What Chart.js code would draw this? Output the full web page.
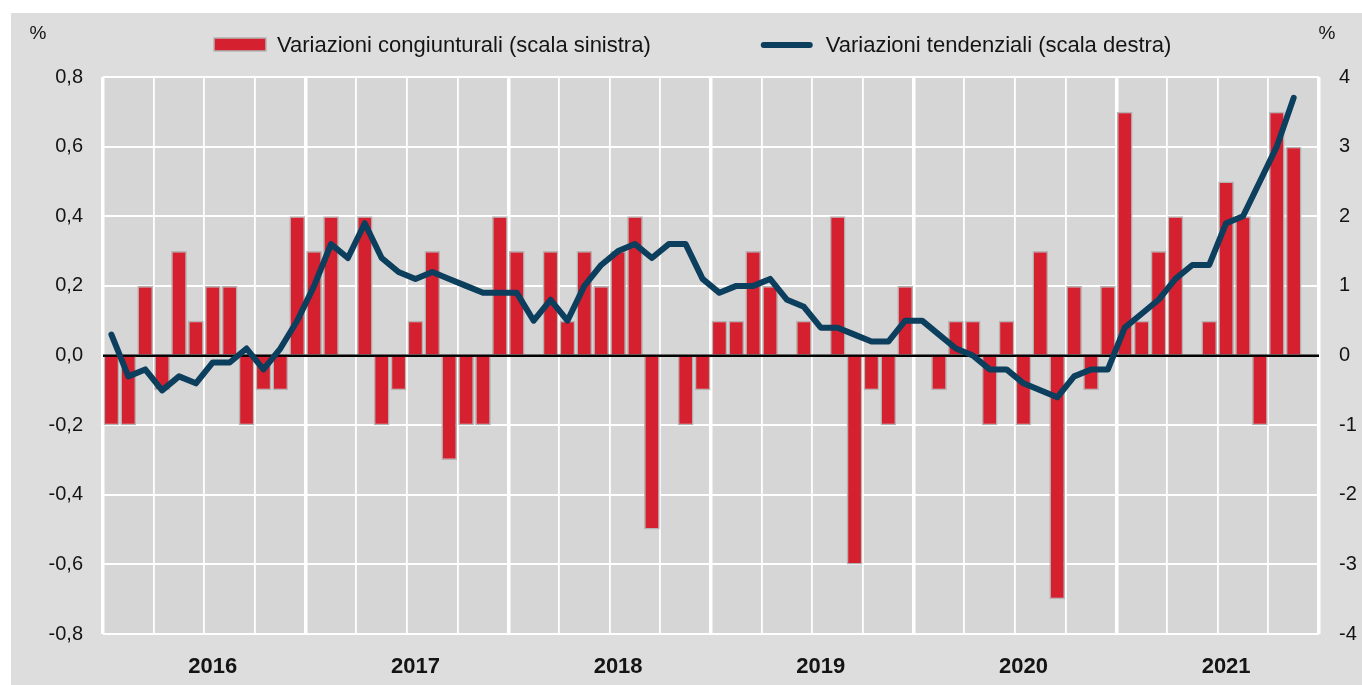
<!DOCTYPE html>
<html lang="it">
<head>
<meta charset="utf-8">
<title>Prezzi al consumo - variazioni</title>
<script src="https://cdn.jsdelivr.net/npm/chart.js@4.4.1/dist/chart.umd.min.js"></script>
<style>
  html, body { margin: 0; padding: 0; background: #fff; }
  #wrap { width: 1362px; height: 685px; }
</style>
</head>
<body>
<div id="wrap"><canvas id="grafico" width="1362" height="685"></canvas></div>
<script>
const anni = [2016, 2017, 2018, 2019, 2020, 2021];
const mesi = ['gen', 'feb', 'mar', 'apr', 'mag', 'giu', 'lug', 'ago', 'set', 'ott', 'nov', 'dic'];

// variazioni congiunturali, % (scala sinistra)
const congiunturali = [
  -0.2, -0.2, 0.2, -0.1, 0.3, 0.1, 0.2, 0.2, -0.2, -0.1, -0.1, 0.4,
  0.3, 0.4, 0.0, 0.4, -0.2, -0.1, 0.1, 0.3, -0.3, -0.2, -0.2, 0.4,
  0.3, 0.0, 0.3, 0.1, 0.3, 0.2, 0.3, 0.4, -0.5, 0.0, -0.2, -0.1,
  0.1, 0.1, 0.3, 0.2, 0.0, 0.1, 0.0, 0.4, -0.6, -0.1, -0.2, 0.2,
  0.0, -0.1, 0.1, 0.1, -0.2, 0.1, -0.2, 0.3, -0.7, 0.2, -0.1, 0.2,
  0.7, 0.1, 0.3, 0.4, 0.0, 0.1, 0.5, 0.4, -0.2, 0.7, 0.6, null
];

// variazioni tendenziali, % (scala destra)
const tendenziali = [
  0.3, -0.3, -0.2, -0.5, -0.3, -0.4, -0.1, -0.1, 0.1, -0.2, 0.1, 0.5,
  1.0, 1.6, 1.4, 1.9, 1.4, 1.2, 1.1, 1.2, 1.1, 1.0, 0.9, 0.9,
  0.9, 0.5, 0.8, 0.5, 1.0, 1.3, 1.5, 1.6, 1.4, 1.6, 1.6, 1.1,
  0.9, 1.0, 1.0, 1.1, 0.8, 0.7, 0.4, 0.4, 0.3, 0.2, 0.2, 0.5,
  0.5, 0.3, 0.1, 0.0, -0.2, -0.2, -0.4, -0.5, -0.6, -0.3, -0.2, -0.2,
  0.4, 0.6, 0.8, 1.1, 1.3, 1.3, 1.9, 2.0, 2.5, 3.0, 3.7, null
];

const etichette = [];
anni.forEach(a => mesi.forEach(m => etichette.push(m + ' ' + a)));

const FONT = "'Liberation Sans', Arial, sans-serif";
const ROSSO = '#d4202f';
const BLU = '#0c3e5d';
const TESTO = '#141414';

const isZero = v => Math.abs(v) < 1e-9;

// sfondo grigio del riquadro e dell'area del grafico
const sfondo = {
  id: 'sfondo',
  beforeDraw(chart) {
    const { ctx, chartArea: a } = chart;
    ctx.save();
    ctx.fillStyle = '#ffffff';
    ctx.fillRect(0, 0, chart.width, chart.height);
    ctx.fillStyle = '#dddddd';
    ctx.fillRect(11, 13, chart.width - 11, chart.height - 13);
    ctx.fillStyle = '#d6d6d6';
    ctx.fillRect(a.left, a.top, a.right - a.left, a.bottom - a.top);
    ctx.restore();
  }
};

// linea dello zero sopra le barre, sotto la linea
const lineaZero = {
  id: 'lineaZero',
  afterDatasetDraw(chart, args) {
    if (args.index !== 0) return;
    const { ctx, chartArea: a } = chart;
    const y = chart.scales.y.getPixelForValue(0);
    ctx.save();
    ctx.strokeStyle = '#000';
    ctx.lineWidth = 2;
    ctx.beginPath();
    ctx.moveTo(a.left, y);
    ctx.lineTo(a.right, y);
    ctx.stroke();
    ctx.restore();
  }
};

// legenda e simboli "%"
const legenda = {
  id: 'legenda',
  afterDraw(chart) {
    const { ctx } = chart;
    const ds = chart.data.datasets;
    ctx.save();
    ctx.font = '22px ' + FONT;
    ctx.textBaseline = 'alphabetic';
    ctx.textAlign = 'left';

    let x = 214;
    const yTesto = 52;
    // barre
    ctx.fillStyle = ds[0].backgroundColor;
    ctx.fillRect(x, 38, 52, 13);
    ctx.strokeStyle = '#b4b4b4';
    ctx.lineWidth = 1.5;
    ctx.strokeRect(x, 38, 52, 13);
    x += 52 + 11;
    ctx.fillStyle = TESTO;
    ctx.fillText(ds[0].label, x, yTesto);
    x += ctx.measureText(ds[0].label).width + 110;
    // linea
    ctx.strokeStyle = ds[1].borderColor;
    ctx.lineWidth = 6;
    ctx.lineCap = 'round';
    ctx.beginPath();
    ctx.moveTo(x + 3, 45);
    ctx.lineTo(x + 49, 45);
    ctx.stroke();
    x += 52 + 13;
    ctx.fillText(ds[1].label, x, yTesto);

    // unità di misura
    ctx.font = '19px ' + FONT;
    ctx.textAlign = 'center';
    ctx.textBaseline = 'middle';
    ctx.fillText('%', 38, 34);
    ctx.fillText('%', 1327, 34);
    ctx.restore();
  }
};

new Chart(document.getElementById('grafico'), {
  type: 'bar',
  data: {
    labels: etichette,
    datasets: [
      {
        label: 'Variazioni congiunturali (scala sinistra)',
        data: congiunturali,
        yAxisID: 'y',
        backgroundColor: ROSSO,
        borderColor: '#b4b4b4',
        borderWidth: 1.5,
        borderSkipped: 'start',
        barPercentage: 0.93,
        categoryPercentage: 1.0,
        order: 1
      },
      {
        type: 'line',
        label: 'Variazioni tendenziali (scala destra)',
        data: tendenziali,
        yAxisID: 'y2',
        borderColor: BLU,
        borderWidth: 6,
        borderJoinStyle: 'round',
        borderCapStyle: 'round',
        pointRadius: 0,
        tension: 0,
        fill: false,
        order: 0
      }
    ]
  },
  options: {
    responsive: false,
    animation: false,
    layout: { padding: { top: 77, left: 0, right: 0, bottom: 0 } },
    plugins: {
      legend: { display: false },
      tooltip: { enabled: false }
    },
    scales: {
      x: {
        type: 'category',
        offset: true,
        grid: {
          offset: true,
          drawTicks: false,
          color: c => (c.index === undefined || c.index % 3 === 0) ? '#ffffff' : 'rgba(0,0,0,0)',
          lineWidth: c => (c.index === undefined || c.index % 12 === 0) ? 3.5 : 1.8
        },
        border: { display: false },
        ticks: {
          autoSkip: false,
          maxRotation: 0,
          padding: 20,
          color: TESTO,
          font: { family: FONT, size: 22, weight: 'bold' },
          callback: (v, i) => i % 12 === 6 ? String(anni[Math.floor(i / 12)]) : ''
        },
        afterFit: s => { s.height = 51; }
      },
      y: {
        position: 'left',
        min: -0.8,
        max: 0.8,
        grid: {
          drawTicks: false,
          color: c => isZero(c.tick.value) ? '#000000' : '#ffffff',
          lineWidth: 2
        },
        border: { display: false },
        ticks: {
          stepSize: 0.2,
          padding: 20,
          color: TESTO,
          font: { family: FONT, size: 20 },
          callback: v => isZero(v) ? '0,0' : v.toFixed(1).replace('.', ',')
        },
        afterFit: s => { s.width = 103; }
      },
      y2: {
        position: 'right',
        min: -4,
        max: 4,
        grid: { display: false, drawTicks: false },
        border: { display: false },
        ticks: {
          stepSize: 1,
          padding: 20,
          color: TESTO,
          font: { family: FONT, size: 20 },
          callback: v => String(v)
        },
        afterFit: s => { s.width = 43; }
      }
    }
  },
  plugins: [sfondo, lineaZero, legenda]
});
</script>
</body>
</html>
